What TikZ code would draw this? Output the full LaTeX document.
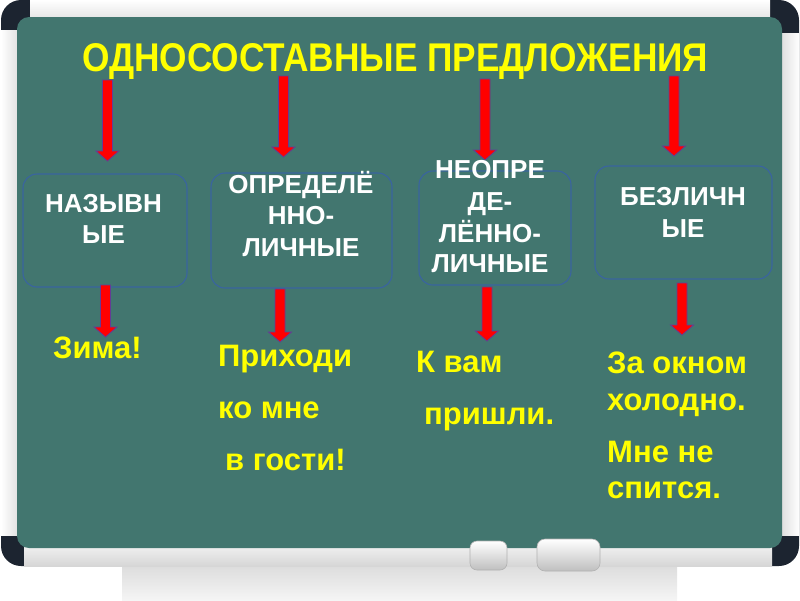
\documentclass[tikz,border=0pt]{standalone}
\usepackage{fontspec}
\setmainfont{Liberation Sans}
\usetikzlibrary{calc}
\definecolor{board}{RGB}{66,118,111}
\definecolor{framedark}{RGB}{28,36,48}
\definecolor{boxedge}{RGB}{58,100,160}
\definecolor{arredge}{RGB}{100,60,150}
\definecolor{chalkyellow}{RGB}{255,255,0}
\tikzset{
  catbox/.style={draw=boxedge, line width=1.1pt, rounded corners=14pt, rectangle, inner sep=0pt},
  wtext/.style={text=white, font=\fontsize{26}{30}\selectfont\bfseries, anchor=base, inner sep=0pt},
  ytext/.style={text=chalkyellow, font=\fontsize{31}{36}\selectfont\bfseries, anchor=base west, inner sep=0pt},
  blockarr/.style={fill=red, draw=arredge, line width=0.8pt, line join=miter},
  band/.style={top color=white, bottom color=black!10, draw=none},
}
\newcommand\blockarrow[2]{%
  \path let \p1=(#1), \p2=(#2) in [blockarr]
    (\x1-5pt,\y1) -- (\x1+5pt,\y1) -- (\x1+5pt,\y2+10pt) -- (\x1+11.5pt,\y2+10pt)
    -- (\x1,\y2) -- (\x1-11.5pt,\y2+10pt) -- (\x1-5pt,\y2+10pt) -- cycle;}
\begin{document}
\begin{tikzpicture}[x=1pt,y=-1pt]
\useasboundingbox (0,0) rectangle (800,600);
% tray
\path[top color=black!14, bottom color=black!4] (122,564) rectangle (677,600);
% frame
\fill[framedark, rounded corners=20pt] (1,0) rectangle (799,566);
\path[band] (30,0) rectangle (770,18);
\path[left color=white, right color=black!12] (1,30) rectangle (18,535);
\path[left color=black!12, right color=white] (782,33) rectangle (799,535);
\path[top color=black!6, bottom color=black!16] (24,546) rectangle (772,566);
% board
\fill[board, rounded corners=12pt] (17,17) rectangle (782,548);
% erasers
\path[top color=white, bottom color=black!25, draw=black!30, line width=0.6pt, rounded corners=7pt] (470,541) rectangle (507,570);
\path[top color=white, bottom color=black!25, draw=black!30, line width=0.6pt, rounded corners=8pt] (537,539) rectangle (600,571);
% title
\node[anchor=base west, inner sep=0pt, text=chalkyellow] (title) at (82,71)
  {\resizebox{626pt}{28pt}{\fontsize{36}{40}\selectfont\bfseries ОДНОСОСТАВНЫЕ ПРЕДЛОЖЕНИЯ}};
% boxes
\node[catbox, minimum width=164pt, minimum height=113pt] (b1) at (105,230.5) {};
\node[catbox, minimum width=181pt, minimum height=115pt] (b2) at (301.5,230.5) {};
\node[catbox, minimum width=152pt, minimum height=114pt] (b3) at (495,228) {};
\node[catbox, minimum width=177pt, minimum height=113pt] (b4) at (683.5,222.5) {};
% arrow coordinates
\coordinate (t1) at (107.5,80);  \coordinate (h1) at (107.5,161);
\coordinate (t2) at (283.5,76);  \coordinate (h2) at (283.5,157);
\coordinate (t3) at (485,79);    \coordinate (h3) at (485,160);
\coordinate (t4) at (674,76);    \coordinate (h4) at (674,156);
\coordinate (u1) at (105.5,285); \coordinate (v1) at (105.5,337);
\coordinate (u2) at (280,289);   \coordinate (v2) at (280,342);
\coordinate (u3) at (487,287);   \coordinate (v3) at (487,341);
\coordinate (u4) at (682,283);   \coordinate (v4) at (682,335);
\blockarrow{t1}{h1}
\blockarrow{t2}{h2}
\blockarrow{t3}{h3}
\blockarrow{t4}{h4}
\blockarrow{u1}{v1}
\blockarrow{u2}{v2}
\blockarrow{u3}{v3}
\blockarrow{u4}{v4}
% box texts
\node[wtext] (l1a) at (103.5,212) {НАЗЫВН};
\node[wtext] (l1b) at (103.5,243) {ЫЕ};
\node[wtext] (l2a) at (301,193) {ОПРЕДЕЛЁ};
\node[wtext] (l2b) at (301,224) {ННО-};
\node[wtext] (l2c) at (301,256) {ЛИЧНЫЕ};
\node[wtext] (l3a) at (490,178) {НЕОПРЕ};
\node[wtext] (l3b) at (490,210) {ДЕ-};
\node[wtext] (l3c) at (490,242) {ЛЁННО-};
\node[wtext] (l3d) at (490,272) {ЛИЧНЫЕ};
\node[wtext] (l4a) at (683,205) {БЕЗЛИЧН};
\node[wtext] (l4b) at (683,237) {ЫЕ};
% examples
\node[ytext] (z1) at (53,358) {Зима!};
\node[ytext] (p1) at (218,366) {Приходи};
\node[ytext] (p2) at (218,418) {ко мне};
\node[ytext] (p3) at (225,470) {в гости!};
\node[ytext] (k1) at (416,372) {К вам};
\node[ytext] (k2) at (424,424) {пришли.};
\node[ytext] (s1) at (607,373) {За окном};
\node[ytext] (s2) at (607,410) {холодно.};
\node[ytext] (s3) at (607,462) {Мне не};
\node[ytext] (s4) at (607,498) {спится.};
\end{tikzpicture}
\end{document}
